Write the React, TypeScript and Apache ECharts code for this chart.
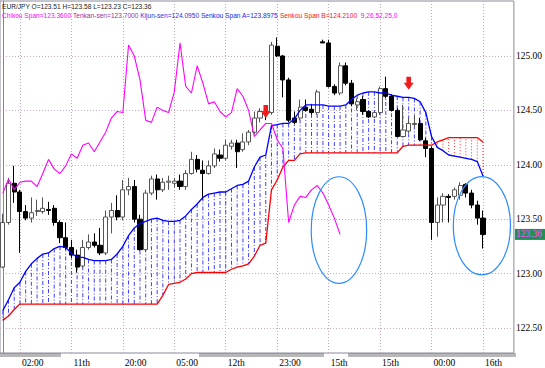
import React, { useEffect, useRef } from 'react';
import * as echarts from 'echarts';

// ---------- data ----------
const symbol = 'EUR/JPY';
const timeLabels = ['02:00', '11th', '20:00', '05:00', '12th', '23:00', '15th', '15th', '00:00', '16th'];
const timeLabelBars = [3, 12, 21, 30, 39, 48, 57, 66, 75, 84];
const priceTicks = [122.5, 123.0, 123.5, 124.0, 124.5, 125.0];

const opens = [
  123.06, 123.47, 123.83, 123.75, 123.57, 123.51, 123.57, 123.57, 123.59, 123.60,
  123.47, 123.33, 123.24, 123.17, 123.07, 123.24, 123.29, 123.26, 123.19, 123.52,
  123.58, 123.52, 123.77, 123.80, 123.50, 123.22, 123.74, 123.87, 123.77, 123.84,
  123.83, 123.85, 123.80, 123.92, 124.05, 123.95, 123.92, 123.99, 124.09, 124.06,
  124.17, 124.20, 124.14, 124.21, 124.30, 124.43, 124.49, 124.48, 125.09, 125.00,
  124.78, 124.43, 124.43, 124.53, 124.51, 124.48, 125.13, 125.12, 124.72, 124.66,
  124.91, 124.75, 124.55, 124.60, 124.49, 124.44, 124.48, 124.70, 124.63, 124.50,
  124.26, 124.31, 124.37, 124.38, 124.22, 124.15, 123.47, 123.63, 123.71, 123.71,
  123.72, 123.82, 123.74, 123.63, 123.51,
];
const highs = [
  123.55, 123.88, 123.99, 123.77, 123.63, 123.70, 123.68, 123.70, 123.66, 123.63,
  123.49, 123.47, 123.31, 123.22, 123.31, 123.36, 123.37, 123.42, 123.58, 123.65,
  123.72, 123.86, 123.88, 123.86, 123.54, 123.77, 123.90, 123.91, 123.88, 123.90,
  123.88, 123.91, 123.95, 124.12, 124.09, 124.04, 124.04, 124.15, 124.14, 124.23,
  124.23, 124.23, 124.29, 124.32, 124.49, 124.52, 124.52, 125.13, 125.17, 125.01,
  124.80, 124.49, 124.60, 124.60, 124.56, 124.69, 125.15, 125.15, 124.74, 124.94,
  124.94, 124.78, 124.61, 124.63, 124.50, 124.49, 124.72, 124.81, 124.65, 124.52,
  124.55, 124.43, 124.46, 124.43, 124.25, 124.17, 123.70, 123.74, 123.73, 123.79,
  123.84, 123.83, 123.77, 123.67, 123.58,
];
const lows = [
  123.05, 123.45, 123.65, 123.19, 123.49, 123.47, 123.53, 123.55, 123.54, 123.44,
  123.28, 123.22, 123.14, 123.01, 123.05, 123.22, 123.24, 123.17, 123.17, 123.37,
  123.49, 123.49, 123.72, 123.47, 123.21, 123.20, 123.72, 123.68, 123.75, 123.77,
  123.79, 123.77, 123.77, 123.91, 123.93, 123.68, 123.91, 123.97, 124.03, 124.04,
  124.14, 123.97, 124.12, 124.18, 124.28, 124.39, 124.41, 124.46, 124.99, 124.62,
  124.39, 124.37, 124.41, 124.49, 124.46, 124.46, 125.12, 124.71, 124.64, 124.64,
  124.73, 124.54, 124.50, 124.46, 124.43, 124.43, 124.46, 124.61, 124.49, 124.25,
  124.25, 124.29, 124.35, 124.22, 124.07, 123.31, 123.34, 123.47, 123.47, 123.68,
  123.68, 123.70, 123.60, 123.45, 123.23,
];
const closes = [
  123.47, 123.83, 123.75, 123.57, 123.51, 123.56, 123.58, 123.60, 123.58, 123.47,
  123.33, 123.24, 123.17, 123.06, 123.24, 123.29, 123.26, 123.19, 123.52, 123.58,
  123.52, 123.77, 123.80, 123.50, 123.22, 123.74, 123.87, 123.77, 123.84, 123.85,
  123.85, 123.80, 123.92, 124.05, 123.96, 123.92, 123.99, 124.10, 124.06, 124.18,
  124.20, 124.12, 124.21, 124.30, 124.43, 124.49, 124.48, 125.10, 125.00, 124.78,
  124.41, 124.39, 124.53, 124.50, 124.48, 124.67, 125.12, 124.72, 124.66, 124.91,
  124.75, 124.56, 124.58, 124.49, 124.44, 124.48, 124.70, 124.63, 124.50, 124.26,
  124.32, 124.38, 124.38, 124.23, 124.15, 123.47, 123.63, 123.71, 123.70, 123.77,
  123.81, 123.74, 123.63, 123.51, 123.36,
];
const senkouA = [
  122.66, 122.76, 122.87, 122.92, 123.02, 123.09, 123.14, 123.18, 123.19, 123.23,
  123.25, 123.24, 123.19, 123.15, 123.15, 123.13, 123.12, 123.12, 123.12, 123.13,
  123.18, 123.25, 123.35, 123.42, 123.46, 123.48, 123.50, 123.51, 123.49, 123.48,
  123.48, 123.49, 123.53, 123.59, 123.64, 123.70, 123.73, 123.74, 123.75, 123.75,
  123.78, 123.81, 123.82, 123.85, 123.98, 124.07, 124.09, 124.36, 124.37, 124.38,
  124.38, 124.42, 124.50, 124.55, 124.55, 124.55, 124.55, 124.54, 124.54, 124.54,
  124.55, 124.60, 124.64, 124.66, 124.67, 124.67, 124.66, 124.66, 124.64, 124.63,
  124.62, 124.62, 124.61, 124.58, 124.48, 124.26, 124.16, 124.13, 124.09, 124.08,
  124.07, 124.06, 124.05, 124.03, 123.8975,
];
const senkouB = [
  122.57, 122.61, 122.67, 122.72, 122.72, 122.72, 122.72, 122.72, 122.72, 122.72,
  122.72, 122.72, 122.72, 122.72, 122.72, 122.72, 122.72, 122.72, 122.72, 122.72,
  122.72, 122.72, 122.72, 122.72, 122.72, 122.72, 122.72, 122.72, 122.80, 122.90,
  122.91, 122.92, 122.95, 123.00, 123.01, 123.01, 123.01, 123.01, 123.01, 123.01,
  123.04, 123.06, 123.07, 123.09, 123.16, 123.26, 123.28, 123.77, 123.86, 123.98,
  124.04, 124.04, 124.10, 124.11, 124.11, 124.11, 124.11, 124.11, 124.11, 124.11,
  124.11, 124.11, 124.11, 124.11, 124.11, 124.11, 124.11, 124.11, 124.11, 124.11,
  124.17, 124.18, 124.18, 124.18, 124.18, 124.18, 124.21, 124.23, 124.25, 124.25,
  124.25, 124.25, 124.25, 124.25, 124.21,
];
const chikouShift = 25;
const tenkanValue = 123.7;
const kijunValue = 124.095;
const ichimokuParams = '9,26,52,25,0';
// sell arrows: [bar, price at arrow top]
const sellArrows = [
  [46, 124.55],
  [71, 124.81],
];
// annotation ellipses: [centre bar, centre price, half width (bars), half height (price)]
const ellipses = [
  [58.8, 123.4, 4.85, 0.49],
  [83.8, 123.44, 5.0, 0.452],
];

// ---------- component ----------
export default function App() {
  const ref = useRef<HTMLDivElement>(null);

  useEffect(() => {
    if (!ref.current) return;
    const chart = echarts.init(ref.current, undefined, { renderer: 'svg' });
    const n = closes.length;
    const last = n - 1;

    const candleData = closes.map((c, i) => [i, opens[i], c, lows[i], highs[i]]);
    const aData = senkouA.map((v, i) => [i, v]);
    const bData = senkouB.map((v, i) => [i, v]);
    const chikouData: number[][] = [];
    for (let j = 0; j + chikouShift < n; j++) chikouData.push([j, closes[j + chikouShift]]);
    const cloudData = senkouA.map((a, i) => [i, a, senkouB[i]]);

    const sansFont = '"Liberation Sans", Arial, sans-serif';
    const serifFont = '"Liberation Serif", "Times New Roman", serif';
    const gridColor = '#c3a9c0';

    const option: any = {
      animation: false,
      backgroundColor: '#ffffff',
      grid: {
        left: 0,
        right: 29,
        top: 1,
        bottom: 15,
        show: true,
        borderColor: '#8a8a9a',
        borderWidth: 1,
        backgroundColor: '#ffffff',
      },
      xAxis: {
        type: 'value',
        min: -0.488,
        max: 89.4,
        axisLine: { show: false },
        axisTick: { show: false, customValues: timeLabelBars },
        splitLine: { show: true, lineStyle: { color: gridColor, type: [1, 2], width: 1 } },
        axisLabel: {
          customValues: timeLabelBars,
          formatter: (v: number) => {
            const k = timeLabelBars.indexOf(Math.round(v));
            return k >= 0 ? timeLabels[k] : '';
          },
          align: 'left',
          margin: 5,
          padding: [0, 0, 0, 2],
          color: '#000000',
          fontFamily: serifFont,
          fontSize: 9.5,
        },
      },
      yAxis: {
        type: 'value',
        position: 'right',
        min: 122.2702,
        max: 125.5055,
        axisLine: { show: true, lineStyle: { color: '#8d7fa3', width: 1 } },
        axisTick: { show: false, customValues: priceTicks },
        splitLine: { show: true, lineStyle: { color: gridColor, type: [1, 2], width: 1 } },
        axisLabel: {
          customValues: priceTicks,
          formatter: (v: number) => v.toFixed(2),
          margin: 2,
          color: '#000000',
          fontFamily: serifFont,
          fontSize: 9.5,
        },
      },
      series: [
        {
          type: 'custom',
          name: 'cloud',
          z: 1,
          silent: true,
          data: cloudData,
          encode: { x: 0, y: [1, 2] },
          renderItem: (params: any, api: any) => {
            const i = api.value(0);
            const a = api.value(1);
            const b = api.value(2);
            const p1 = api.coord([i, a]);
            const p2 = api.coord([i, b]);
            const up = a >= b;
            return {
              type: 'line',
              shape: { x1: p1[0], y1: p1[1], x2: p2[0], y2: p2[1] },
              style: {
                stroke: up ? '#3434ff' : '#ff2020',
                lineWidth: 1,
                lineDash: up ? [4, 2, 1, 2] : [1, 2],
                opacity: 0.95,
              },
            };
          },
        },
        {
          type: 'candlestick',
          name: symbol,
          z: 2,
          barWidth: 4.6,
          data: candleData,
          encode: { x: 0, y: [1, 2, 3, 4] },
          itemStyle: {
            color: '#ffffff',
            color0: '#000000',
            borderColor: '#555555',
            borderColor0: '#000000',
            borderWidth: 1,
          },
          markLine: {
            silent: true,
            symbol: 'none',
            lineStyle: { color: 'rgba(0,0,0,0)', width: 0 },
            label: {
              show: true,
              position: 'end',
              distance: 1,
              formatter: () => closes[last].toFixed(2),
              backgroundColor: '#1f8f55',
              color: '#ff4dff',
              fontFamily: serifFont,
              fontSize: 9.5,
              padding: [1, 3, 0, 1],
            },
            data: [{ yAxis: closes[last] }],
          },
        },
        {
          type: 'line',
          name: 'Senkou Span B',
          z: 3,
          data: bData,
          showSymbol: false,
          lineStyle: { color: '#ff0000', width: 1.3 },
        },
        {
          type: 'line',
          name: 'Senkou Span A',
          z: 3,
          data: aData,
          showSymbol: false,
          lineStyle: { color: '#0000ff', width: 1.3 },
        },
        {
          type: 'line',
          name: 'Chikou Span',
          z: 3,
          data: chikouData,
          showSymbol: false,
          lineStyle: { color: '#ff00ff', width: 1.1 },
        },
        {
          type: 'custom',
          name: 'arrows',
          z: 4,
          silent: true,
          data: sellArrows,
          encode: { x: 0, y: 1 },
          renderItem: (params: any, api: any) => {
            const p = api.coord([api.value(0), api.value(1)]);
            const x = p[0];
            const y = p[1];
            return {
              type: 'polygon',
              shape: {
                points: [
                  [x - 2.3, y],
                  [x + 2.3, y],
                  [x + 2.3, y + 6],
                  [x + 5, y + 6],
                  [x, y + 13],
                  [x - 5, y + 6],
                  [x - 2.3, y + 6],
                ],
              },
              style: { fill: '#f01c1c' },
            };
          },
        },
        {
          type: 'custom',
          name: 'circles',
          z: 4,
          silent: true,
          clip: false,
          data: ellipses,
          encode: { x: 0, y: 1 },
          renderItem: (params: any, api: any) => {
            const c = api.coord([api.value(0), api.value(1)]);
            const s = api.size([api.value(2), api.value(3)]);
            return {
              type: 'ellipse',
              shape: { cx: c[0], cy: c[1], rx: s[0], ry: s[1] },
              style: { fill: 'none', stroke: '#2c8cff', lineWidth: 1.2 },
            };
          },
        },
      ],
      graphic: [
        {
          type: 'text',
          left: 2,
          top: 3,
          z: 10,
          style: {
            text: `${symbol} O=${opens[last].toFixed(2)} H=${highs[last].toFixed(2)} L=${lows[last].toFixed(2)} C=${closes[last].toFixed(2)}`,
            fontFamily: sansFont,
            fontSize: 6.6,
            fill: '#1a1a1a',
          },
        },
        {
          type: 'text',
          left: 2,
          top: 12,
          z: 10,
          style: {
            text:
              `{c|Chikou Span=${closes[last].toFixed(4)}} ` +
              `{t|Tenkan-sen=${tenkanValue.toFixed(4)}} ` +
              `{k|Kijun-sen=${kijunValue.toFixed(4)}} ` +
              `{a|Senkou Span A=${senkouA[last].toFixed(4)}} ` +
              `{b|Senkou Span B=${senkouB[last].toFixed(4)}}  ` +
              `{p|${ichimokuParams}}`,
            fontFamily: sansFont,
            fontSize: 6.6,
            rich: {
              c: { fill: '#ff00ff', fontFamily: sansFont, fontSize: 6.6 },
              t: { fill: '#9a2f9a', fontFamily: sansFont, fontSize: 6.6 },
              k: { fill: '#3030e0', fontFamily: sansFont, fontSize: 6.6 },
              a: { fill: '#2020ff', fontFamily: sansFont, fontSize: 6.6 },
              b: { fill: '#ff1010', fontFamily: sansFont, fontSize: 6.6 },
              p: { fill: '#ff00ff', fontFamily: sansFont, fontSize: 6.6 },
            },
          },
        },
        // x axis double rule
        { type: 'line', shape: { x1: 0, y1: 354, x2: 61, y2: 354 }, style: { stroke: '#707070', lineWidth: 1 } },
        { type: 'line', shape: { x1: 0, y1: 356, x2: 61, y2: 356 }, style: { stroke: '#707070', lineWidth: 1 } },
        { type: 'line', shape: { x1: 199, y1: 354, x2: 324, y2: 354 }, style: { stroke: '#707070', lineWidth: 1 } },
        { type: 'line', shape: { x1: 199, y1: 356, x2: 324, y2: 356 }, style: { stroke: '#707070', lineWidth: 1 } },
        { type: 'line', shape: { x1: 348, y1: 354, x2: 516, y2: 354 }, style: { stroke: '#707070', lineWidth: 1 } },
        { type: 'line', shape: { x1: 348, y1: 356, x2: 516, y2: 356 }, style: { stroke: '#707070', lineWidth: 1 } },
      ],
    };

    chart.setOption(option);
    return () => chart.dispose();
  }, []);

  return (
    <div
      ref={ref}
      style={{ position: 'absolute', left: 0, top: 0, width: 545, height: 368, background: '#ffffff' }}
    />
  );
}
